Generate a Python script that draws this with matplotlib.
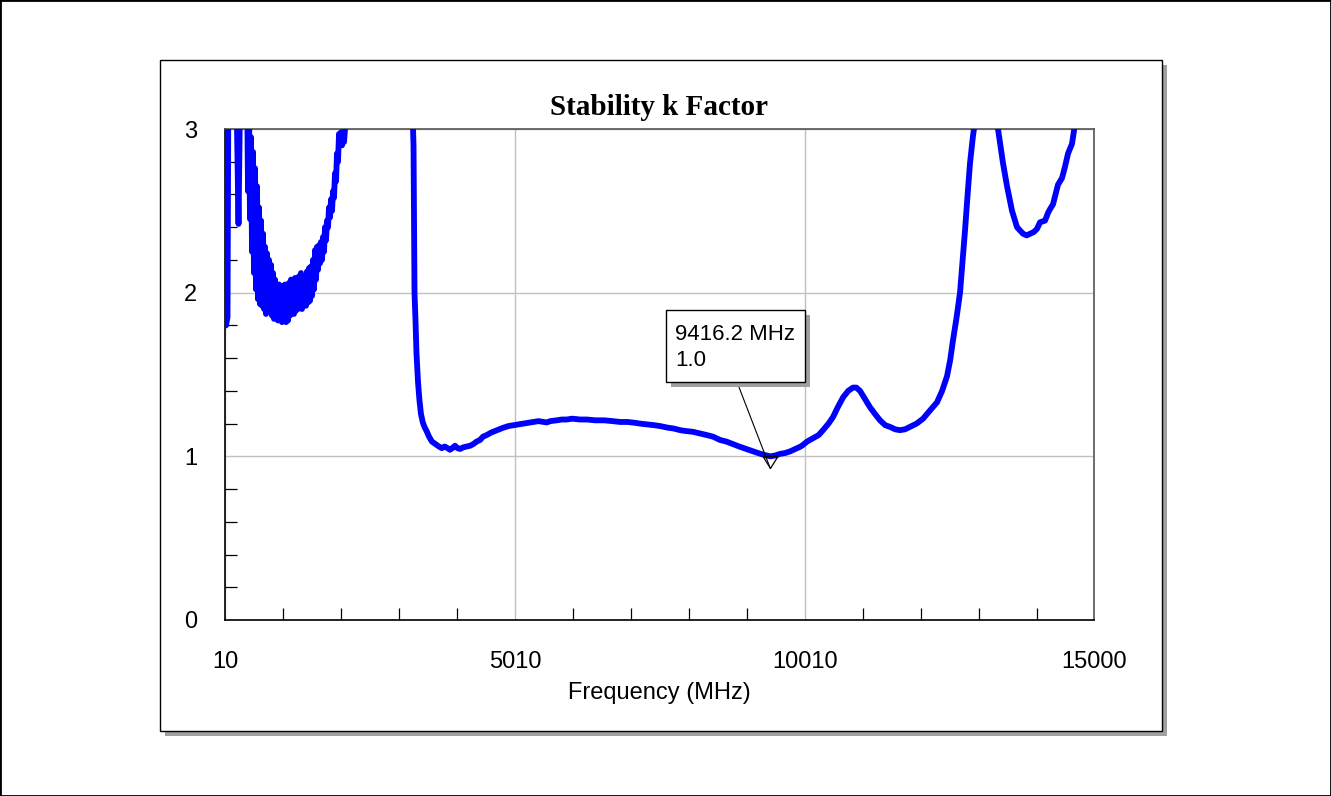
import matplotlib
matplotlib.use("Agg")
import matplotlib.pyplot as plt
from matplotlib.patches import Rectangle
from matplotlib.path import Path
from matplotlib import transforms
import numpy as np

plt.rcParams['font.family'] = ['Liberation Sans', 'DejaVu Sans']

# Measured stability factor k versus frequency (MHz)
freq_mhz = [
    10, 27, 53, 70, 200, 243, 277, 372,
    390, 407, 424, 441, 459, 476, 493, 510, 528, 545, 562, 579, 597, 614,
    631, 648, 666, 683, 700, 717, 735, 752, 769, 786, 804, 821, 838, 855,
    873, 890, 907, 924, 942, 959, 976, 993, 1011, 1028, 1045, 1062, 1080,
    1097, 1114, 1131, 1149, 1166, 1183, 1200, 1218, 1235, 1252, 1269, 1287,
    1304, 1321, 1338, 1356, 1373, 1390, 1407, 1425, 1442, 1459, 1476, 1494,
    1511, 1528, 1545, 1563, 1580, 1597, 1614, 1632, 1649, 1666, 1683, 1701,
    1718, 1735, 1752, 1770, 1787, 1804, 1821, 1839, 1856, 1873, 1890, 1908,
    1925, 1942, 1959, 1977, 1994, 2011, 2028, 2046, 2063, 2080, 2114, 2149,
    3220, 3262, 3272, 3279, 3296, 3313, 3340, 3365, 3390, 3420, 3450, 3480,
    3530, 3580, 3660, 3700, 3750, 3800, 3850, 3891, 3930, 3978, 4020, 4064,
    4120, 4179, 4240, 4293, 4350, 4409, 4460, 4524, 4600, 4668, 4740, 4811,
    4900, 4984, 5070, 5156, 5240, 5328, 5420, 5501, 5560, 5620, 5732, 5820,
    5904, 6000, 6134, 6250, 6400, 6550, 6700, 6824, 6950, 7080, 7169, 7300,
    7420, 7514, 7650, 7750, 7859, 7950, 8080, 8204, 8320, 8430, 8549, 8660,
    8770, 8880, 9000, 9123, 9250, 9354, 9416.2, 9500, 9584, 9670, 9756, 9850,
    9940, 9981, 10050, 10150, 10250, 10326, 10420, 10498, 10580, 10671, 10760,
    10843, 10900, 10964, 11050, 11136, 11220, 11309, 11400, 11481, 11570,
    11654, 11740, 11826, 11940, 12051, 12170, 12292, 12380, 12465, 12520,
    12568, 12630, 12689, 12735, 12775, 12820, 12861, 12910, 12948, 13000,
    13300, 13344, 13431, 13500, 13586, 13672, 13776, 13840, 13897, 13960,
    14017, 14069, 14155, 14210, 14241, 14293, 14379, 14448, 14500, 14552,
    14621, 14655, 14700, 15000,
]

k_factor = [
    2.07, 1.80, 1.85, 3.40, 3.40, 2.42, 3.40, 3.40,
    3.30, 2.62, 3.15, 2.45, 2.95, 2.25, 2.86, 2.12, 2.76, 2.02, 2.65, 1.96, 2.52, 1.93,
    2.44, 1.92, 2.36, 1.90, 2.28, 1.87, 2.24, 1.90, 2.20, 1.88, 2.17, 1.86, 2.12, 1.84,
    2.08, 1.86, 2.05, 1.83, 2.05, 1.84, 2.04, 1.82, 2.03, 1.86, 2.05, 1.82, 2.00,
    1.83, 2.06, 1.86, 2.08, 1.88, 2.07, 1.87, 2.09, 1.89, 2.06, 1.90, 2.10,
    1.91, 2.12, 1.90, 2.10, 1.93, 2.08, 1.92, 2.13, 1.94, 2.15, 1.95, 2.16,
    1.98, 2.20, 2.02, 2.26, 2.08, 2.28, 2.14, 2.29, 2.18, 2.31, 2.20, 2.34,
    2.25, 2.40, 2.32, 2.44, 2.40, 2.52, 2.46, 2.57, 2.50, 2.62, 2.58, 2.73,
    2.68, 2.85, 2.80, 2.97, 2.92, 2.98, 2.90, 2.95, 2.92, 3.00, 3.10, 3.40,
    3.40, 2.90, 2.40, 2.00, 1.83, 1.63, 1.45, 1.34, 1.26, 1.21, 1.18, 1.16,
    1.12, 1.09, 1.07, 1.06, 1.05, 1.06, 1.05, 1.04, 1.05, 1.065, 1.05, 1.045,
    1.055, 1.06, 1.065, 1.075, 1.09, 1.10, 1.12, 1.13, 1.145, 1.155, 1.165, 1.175,
    1.185, 1.19, 1.195, 1.20, 1.205, 1.21, 1.215, 1.21, 1.207, 1.215, 1.22, 1.225,
    1.225, 1.23, 1.225, 1.225, 1.22, 1.22, 1.215, 1.21, 1.21, 1.205, 1.20, 1.195,
    1.19, 1.185, 1.175, 1.17, 1.16, 1.155, 1.15, 1.14, 1.13, 1.12, 1.10, 1.09,
    1.075, 1.06, 1.045, 1.03, 1.015, 1.005, 1.00, 1.005, 1.015, 1.02, 1.03, 1.045,
    1.06, 1.07, 1.09, 1.11, 1.13, 1.16, 1.20, 1.24, 1.30, 1.36, 1.40,
    1.42, 1.42, 1.40, 1.35, 1.30, 1.26, 1.22, 1.19, 1.18, 1.165,
    1.16, 1.165, 1.18, 1.20, 1.23, 1.28, 1.33, 1.40, 1.49, 1.59,
    1.71, 1.85, 2.00, 2.20, 2.38, 2.60, 2.79, 2.95, 3.05, 3.40,
    3.40, 3.00, 2.79, 2.65, 2.50, 2.40, 2.36, 2.35, 2.36, 2.37,
    2.39, 2.43, 2.44, 2.49, 2.51, 2.54, 2.66, 2.70, 2.77, 2.85,
    2.91, 2.99, 3.20, 3.60,
]

x_tick_values = [10, 5010, 10010, 15000]
x_tick_labels = ["10", "5010", "10010", "15000"]
y_tick_values = [0, 1, 2, 3]
y_tick_labels = ["0", "1", "2", "3"]

marker_freq = 9416.2
marker_k = 1.0

W, H = 1331, 796
fig = plt.figure(figsize=(W / 100, H / 100), dpi=100)

# outer frame of the whole sheet
fig.patches.append(Rectangle((0, 0), 1, 1, transform=fig.transFigure,
                             fill=False, edgecolor="black", lw=2.0, zorder=-1))

# chart panel with drop shadow
px0, py0, px1, py1 = 160, 60, 1162, 731
sh = 5
fig.patches.append(Rectangle(((px0 + sh) / W, 1 - (py1 + sh) / H),
                             (px1 - px0) / W, (py1 - py0) / H,
                             transform=fig.transFigure, facecolor="#a0a0a0",
                             edgecolor="none", zorder=-3))
fig.patches.append(Rectangle((px0 / W, 1 - py1 / H),
                             (px1 - px0) / W, (py1 - py0) / H,
                             transform=fig.transFigure, facecolor="white",
                             edgecolor="black", lw=1.0, zorder=-2))

ax = fig.add_axes([225 / W, 1 - 620 / H, 869 / W, 491 / H])
ax.set_zorder(1)
ax.set_facecolor("white")

ax.plot(freq_mhz, k_factor, color="#0000ff", lw=4.2,
        solid_joinstyle="round", solid_capstyle="round", zorder=3)

ax.set_xlim(10, 15000)
ax.set_ylim(0, 3)

ax.set_xticks(x_tick_values)
ax.set_xticklabels(x_tick_labels)
ax.set_yticks(y_tick_values)
ax.set_yticklabels(y_tick_labels)
ax.set_xticks(np.arange(1010, 15000, 1000), minor=True)
ax.set_yticks(np.arange(0.2, 3.0, 0.2), minor=True)

ax.tick_params(which="major", length=0, labelsize=17, pad=20)
ax.tick_params(which="minor", direction="in", length=8.6, width=0.9,
               color="black")
ax.tick_params(axis="x", which="major", pad=22)

ax.grid(True, which="major", color="#c0c0c0", lw=1.0)
ax.set_axisbelow(True)

for side in ("left", "bottom"):
    ax.spines[side].set_color("black")
    ax.spines[side].set_linewidth(1.2)
for side in ("top", "right"):
    ax.spines[side].set_color("#555555")
    ax.spines[side].set_linewidth(1.2)

ax.set_xlabel("Frequency (MHz)", fontsize=17, labelpad=7)
ax.set_title("Stability k Factor", fontfamily="Liberation Serif",
             fontweight="bold", fontsize=21, pad=10)

# marker: open triangle hanging below the point
tri = Path([(-0.62, 0.0), (0.62, 0.0), (0.0, -1.0), (-0.62, 0.0)],
           [Path.MOVETO, Path.LINETO, Path.LINETO, Path.CLOSEPOLY])
ms = 17.3
ax.plot([marker_freq], [marker_k], ls="none", marker=tri, ms=ms,
        mfc="none", mec="black", mew=0.9, zorder=4, clip_on=False)

apex = transforms.offset_copy(ax.transData, fig=fig, x=0, y=-0.5 * ms,
                              units="points")

# annotation box
bx0, by0, bx1, by1 = 666, 310, 805, 382
ax_w, ax_h = 869, 491
def axfrac(px, py):
    return (px - 225) / ax_w, (620 - py) / ax_h

l, t = axfrac(bx0, by0)
r, b = axfrac(bx1, by1)
dx, dy = 5 / ax_w, 5 / ax_h
ax.add_patch(Rectangle((l + dx, b - dy), r - l, t - b, transform=ax.transAxes,
                       facecolor="#a0a0a0", edgecolor="none", zorder=5,
                       clip_on=False))
ax.add_patch(Rectangle((l, b), r - l, t - b, transform=ax.transAxes,
                       facecolor="white", edgecolor="black", lw=1.0, zorder=6,
                       clip_on=False))
lx, ly = axfrac(737, by1)
ax.annotate("", xy=(marker_freq, marker_k), xycoords=apex,
            xytext=(lx, ly), textcoords="axes fraction",
            arrowprops=dict(arrowstyle="-", color="black", lw=0.8,
                            shrinkA=0, shrinkB=0), zorder=4)
tx, ty = axfrac(675, 324)
ax.text(tx, ty, f"{marker_freq:.1f} MHz\n{marker_k:.1f}",
        transform=ax.transAxes, ha="left", va="top", fontsize=16,
        linespacing=1.3, zorder=7)

fig.savefig("out.png", dpi=100)
